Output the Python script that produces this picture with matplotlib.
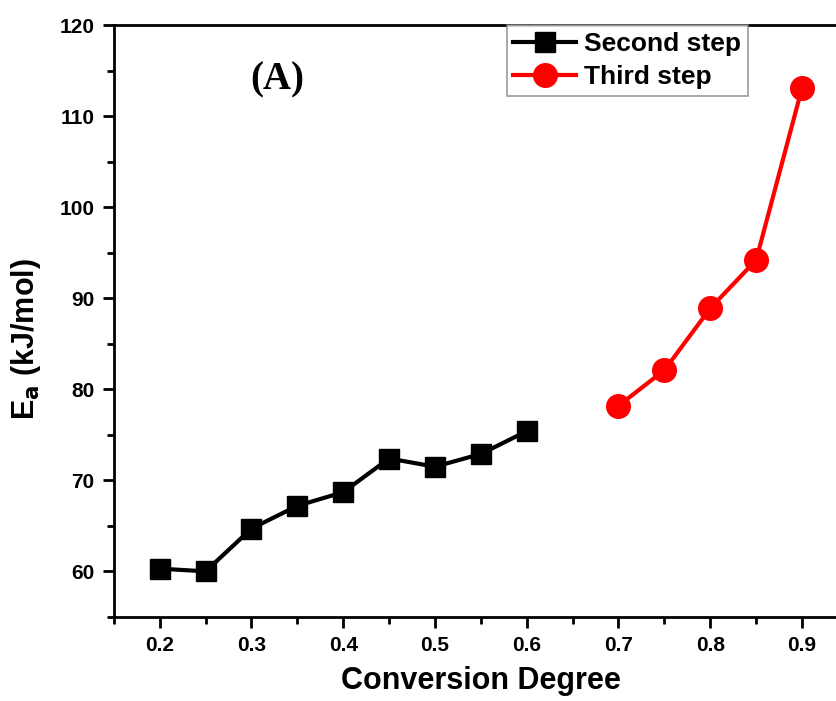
import matplotlib
matplotlib.use("Agg")
import matplotlib.pyplot as plt
from matplotlib.ticker import MultipleLocator

# ---- data ----
conv_second = [0.20, 0.25, 0.30, 0.35, 0.40, 0.45, 0.50, 0.55, 0.60]
ea_second = [60.3, 60.0, 64.7, 67.2, 68.7, 72.4, 71.5, 72.9, 75.4]
conv_third = [0.70, 0.75, 0.80, 0.85, 0.90]
ea_third = [78.2, 82.1, 88.9, 94.2, 113.1]

plt.rcParams["font.family"] = ["Liberation Sans", "DejaVu Sans"]
plt.rcParams["font.weight"] = "bold"

fig = plt.figure(figsize=(8.37, 7.01), dpi=100)
ax = fig.add_axes([0.136, 0.120, 0.877, 0.844])

ax.plot(conv_second, ea_second, color="black", lw=3, marker="s", ms=15,
        label="Second step")
ax.plot(conv_third, ea_third, color="red", lw=3, marker="o", ms=17,
        label="Third step")

ax.set_xlim(0.15, 0.95)
ax.set_ylim(55, 120)
ax.xaxis.set_minor_locator(MultipleLocator(0.05))
ax.yaxis.set_minor_locator(MultipleLocator(5))
ax.set_xticks([0.2, 0.3, 0.4, 0.5, 0.6, 0.7, 0.8, 0.9])
ax.set_xticklabels(["0.2", "0.3", "0.4", "0.5", "0.6", "0.7", "0.8", "0.9"])
ax.set_yticks([60, 70, 80, 90, 100, 110, 120])
ax.tick_params(which="major", direction="out", length=8, width=2, pad=6)
ax.tick_params(which="minor", direction="out", length=5, width=2)
for lab in ax.get_xticklabels() + ax.get_yticklabels():
    lab.set_fontsize(15)
    lab.set_fontweight("bold")
for s in ax.spines.values():
    s.set_linewidth(2)

ax.set_xlabel("Conversion Degree", fontsize=22, fontweight="bold", labelpad=8)
ax.set_ylabel(r"E$_\mathbf{a}$ (kJ/mol)", fontsize=22, fontweight="bold")
ax.yaxis.set_label_coords(-0.097, 0.47)

ax.text(0.222, 0.907, "(A)", transform=ax.transAxes, fontsize=28,
        fontweight="bold", family="Liberation Serif", ha="center", va="center")

leg = ax.legend(loc="upper left", bbox_to_anchor=(0.535, 1.0), fontsize=19,
                frameon=True, fancybox=False, borderpad=0.25, handlelength=2.4,
                handletextpad=0.3, labelspacing=0.35, borderaxespad=0)
leg.get_frame().set_edgecolor("gray")
leg.get_frame().set_linewidth(1.2)

fig.savefig("out.png", dpi=100, facecolor="white")
